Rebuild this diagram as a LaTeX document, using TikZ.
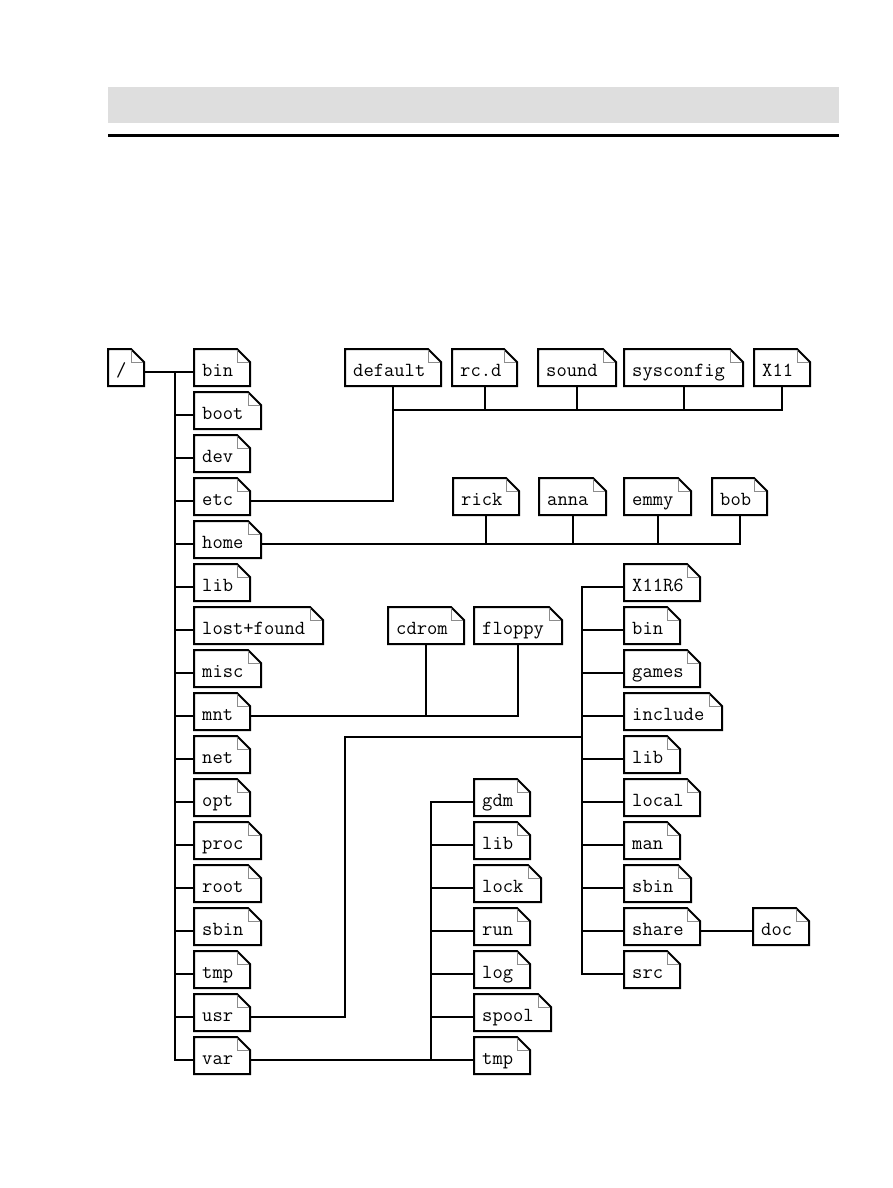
\documentclass[tikz,border=0pt]{standalone}
\usepackage{fontspec}
\begin{document}
\fontsize{20}{24}\selectfont
\begin{tikzpicture}[x=1pt,y=-1pt,
  fbox/.style={anchor=north west, inner xsep=8pt, inner ysep=0pt, align=left,
    text height=27.5pt, text depth=9.5pt, minimum height=37pt,
    font=\fontsize{20}{24}\selectfont\ttfamily},
  fout/.style={draw=black, fill=white, line width=2pt, line join=miter},
  ffold/.style={draw=black!45, line width=1pt},
  conn/.style={draw=black, line width=2pt}]
\useasboundingbox (0,0) rectangle (893,1188);
\fill[black!13] (108,87) rectangle (839,123.5);
\fill[black] (108,134) rectangle (839,137);

\newcommand\fnode[5]{%
  \pgfmathsetmacro\fw{#4-#2}\pgfmathsetmacro\fwt{#4-#2-16}%
  \draw[fout] (#2,#3-23) -- (#4-13,#3-23) -- (#4,#3-10) -- (#4,#3+14) -- (#2,#3+14) -- cycle;
  \node[fbox, minimum width=\fw pt, text width=\fwt pt] (#1) at (#2,#3-23) {#5};
  \draw[ffold] ([xshift=-13pt,yshift=-1pt]#1.north east) |- ([xshift=-1pt,yshift=-13pt]#1.north east);
}

% root
\fnode{root}{108}{372}{144}{/}
% first level
\fnode{bin}{194}{372}{250}{bin}
\fnode{boot}{194}{415}{261}{boot}
\fnode{dev}{194}{458}{250}{dev}
\fnode{etc}{194}{501}{250}{etc}
\fnode{home}{194}{544}{261}{home}
\fnode{lib}{194}{587}{250}{lib}
\fnode{lost}{194}{630}{323}{lost+found}
\fnode{misc}{194}{673}{261}{misc}
\fnode{mnt}{194}{716}{250}{mnt}
\fnode{net}{194}{759}{250}{net}
\fnode{opt}{194}{802}{250}{opt}
\fnode{proc}{194}{845}{261}{proc}
\fnode{rootd}{194}{888}{261}{root}
\fnode{sbin}{194}{931}{261}{sbin}
\fnode{tmp}{194}{974}{250}{tmp}
\fnode{usr}{194}{1017}{250}{usr}
\fnode{var}{194}{1060}{250}{var}
% etc children
\fnode{default}{345}{372}{441}{default}
\fnode{rcd}{452}{372}{517}{rc.d}
\fnode{sound}{538}{372}{616}{sound}
\fnode{sysconfig}{624}{372}{743}{sysconfig}
\fnode{xeleven}{754}{372}{810}{X11}
% home children
\fnode{rick}{453}{501}{519}{rick}
\fnode{anna}{539}{501}{606}{anna}
\fnode{emmy}{624}{501}{691}{emmy}
\fnode{bob}{712}{501}{767}{bob}
% mnt children
\fnode{cdrom}{388}{630}{464}{cdrom}
\fnode{floppy}{474}{630}{562}{floppy}
% usr children
\fnode{xr}{624}{587}{700}{X11R6}
\fnode{ubin}{624}{630}{680}{bin}
\fnode{games}{624}{673}{700}{games}
\fnode{include}{624}{716}{722}{include}
\fnode{ulib}{624}{759}{680}{lib}
\fnode{local}{624}{802}{700}{local}
\fnode{man}{624}{845}{680}{man}
\fnode{usbin}{624}{888}{691}{sbin}
\fnode{share}{624}{931}{700}{share}
\fnode{src}{624}{974}{680}{src}
\fnode{doc}{753}{931}{809}{doc}
% var children
\fnode{gdm}{474}{802}{530}{gdm}
\fnode{vlib}{474}{845}{530}{lib}
\fnode{lock}{474}{888}{541}{lock}
\fnode{run}{474}{931}{530}{run}
\fnode{log}{474}{974}{530}{log}
\fnode{spool}{474}{1017}{551}{spool}
\fnode{vtmp}{474}{1060}{530}{tmp}

% junction coordinates (x positions of trunks, y of bus lines)
\coordinate (rj) at (175,0);
\coordinate (ej) at (394,410);
\coordinate (ub) at (345,737);
\coordinate (uj) at (582,737);
\coordinate (vj) at (431,0);

% root trunk
\draw[conn] (root.mid east) -- (bin.mid west);
\draw[conn] (bin.mid west -| rj) |- (var.mid west);
\foreach \n in {boot,dev,etc,home,lib,lost,misc,mnt,net,opt,proc,rootd,sbin,tmp,usr}
  \draw[conn] (\n.mid west) -- (\n.mid west -| rj);

% etc
\draw[conn] (etc.mid east) -| (default.south);
\draw[conn] (ej) -| (xeleven.south);
\foreach \n in {rcd,sound,sysconfig}
  \draw[conn] (\n.south) -- (\n.south |- ej);

% home
\draw[conn] (home.mid east) -| (bob.south);
\foreach \n in {rick,anna,emmy}
  \draw[conn] (\n.south) -- (\n.south |- home.mid east);

% mnt
\draw[conn] (mnt.mid east) -| (floppy.south);
\draw[conn] (cdrom.south) -- (cdrom.south |- mnt.mid east);

% usr
\draw[conn] (usr.mid east) -| (ub) -- (uj);
\draw[conn] (xr.mid west) -| (src.mid west -| uj) -- (src.mid west);
\foreach \n in {ubin,games,include,ulib,local,man,usbin,share}
  \draw[conn] (\n.mid west) -- (\n.mid west -| uj);
\draw[conn] (share.mid east) -- (doc.mid west);

% var
\draw[conn] (var.mid east) -- (vtmp.mid west);
\draw[conn] (gdm.mid west) -| (vtmp.mid west -| vj);
\foreach \n in {vlib,lock,run,log,spool}
  \draw[conn] (\n.mid west) -- (\n.mid west -| vj);
\end{tikzpicture}
\end{document}
